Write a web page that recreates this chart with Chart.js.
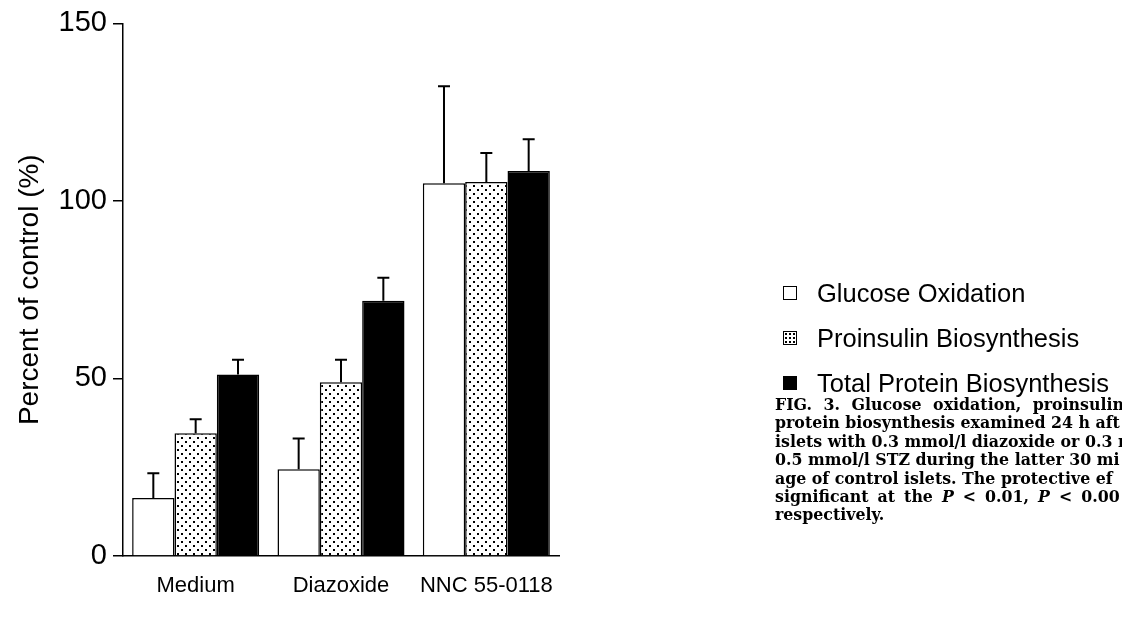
<!DOCTYPE html>
<html>
<head>
<meta charset="utf-8">
<script src="https://cdn.jsdelivr.net/npm/chart.js@4.4.1/dist/chart.umd.min.js"></script>
<style>
  html, body { margin: 0; padding: 0; background: #fff; }
  #wrap { position: relative; width: 1122px; height: 618px; overflow: hidden; }
  #chart-box { position: absolute; left: 0; top: 0; width: 1122px; height: 618px; }
  .legend { position: absolute; left: 783px; font-family: "Liberation Sans", Arial, sans-serif; font-size: 25.5px; line-height: 28px; color: #000; white-space: nowrap; }
  .legend .box { display: inline-block; width: 12px; height: 12px; border: 1.5px solid #000; vertical-align: middle; margin-right: 20px; position: relative; top: -2px; }
  .caption { position: absolute; left: 775px; top: 396px; font-family: "DejaVu Serif", serif; font-weight: bold; font-size: 15.8px; line-height: 18.4px; color: #000; white-space: nowrap; }
</style>
</head>
<body>
<div id="wrap">
  <div id="chart-box"><canvas id="barChart"></canvas></div>
  <div id="legend"></div>
  <div class="caption" id="caption"></div>
</div>
<script>
const categories = ['Medium', 'Diazoxide', 'NNC 55-0118'];
const seriesNames = ['Glucose Oxidation', 'Proinsulin Biosynthesis', 'Total Protein Biosynthesis'];
const glucoseOx = [16.3, 24.4, 105];
const glucoseOxErr = [7, 8.7, 27.3];
const proinsulin = [34.6, 48.9, 105.3];
const proinsulinErr = [3.9, 6.4, 8.2];
const totalProtein = [51.1, 71.9, 108.4];
const totalProteinErr = [4.2, 6.5, 9];
const yTicks = [0, 50, 100, 150];

const captionLines = [
  'FIG. 3. Glucose oxidation, proinsulin',
  'protein biosynthesis examined 24 h aft',
  'islets with 0.3 mmol/l diazoxide or 0.3 m',
  '0.5 mmol/l STZ during the latter 30 mi',
  'age of control islets. The protective ef',
  'significant at the <i>P</i> &lt; 0.01, <i>P</i> &lt; 0.00',
  'respectively.'
];
const captionSpacing = [6, 0, 0, 0, 0, 3.5, 0];

// dotted fill like the scanned figure
function dotPattern() {
  const c = document.createElement('canvas');
  c.width = 8; c.height = 8;
  const g = c.getContext('2d');
  g.fillStyle = '#fff';
  g.fillRect(0, 0, 8, 8);
  g.fillStyle = '#000';
  g.fillRect(1, 1, 2, 2);
  g.fillRect(5, 5, 2, 2);
  return g.createPattern(c, 'repeat');
}

const errors = [glucoseOxErr, proinsulinErr, totalProteinErr];

const errorBars = {
  id: 'errorBars',
  afterDatasetsDraw(chart) {
    const ctx = chart.ctx;
    const y = chart.scales.y;
    ctx.save();
    ctx.strokeStyle = '#000';
    ctx.lineWidth = 2;
    chart.data.datasets.forEach((ds, i) => {
      chart.getDatasetMeta(i).data.forEach((bar, j) => {
        const top = y.getPixelForValue(ds.data[j] + errors[i][j]);
        ctx.beginPath();
        ctx.moveTo(bar.x, bar.y);
        ctx.lineTo(bar.x, top);
        ctx.moveTo(bar.x - 6, top);
        ctx.lineTo(bar.x + 6, top);
        ctx.stroke();
      });
    });
    ctx.restore();
  }
};

const fills = ['#fff', dotPattern(), '#000'];
const values = [glucoseOx, proinsulin, totalProtein];

new Chart(document.getElementById('barChart'), {
  type: 'bar',
  data: {
    labels: categories,
    datasets: values.map((v, i) => ({
      label: seriesNames[i],
      data: v,
      backgroundColor: fills[i],
      borderColor: '#000',
      borderWidth: 1.5,
      categoryPercentage: 0.874,
      barPercentage: 1
    }))
  },
  options: {
    responsive: true,
    maintainAspectRatio: false,
    animation: false,
    layout: { padding: { top: 22, right: 563, left: 0, bottom: 0 } },
    plugins: { legend: { display: false }, tooltip: { enabled: false } },
    scales: {
      x: {
        afterFit: s => { s.height = 62; },
        grid: { display: false },
        border: { display: true, color: '#000', width: 1.5 },
        ticks: { color: '#000', padding: 9, font: { family: 'Liberation Sans', size: 22 } }
      },
      y: {
        min: 0,
        max: 150,
        afterFit: s => { s.width = 123; },
        afterBuildTicks: s => { s.ticks = yTicks.map(v => ({ value: v })); },
        grid: { drawOnChartArea: false, drawTicks: true, tickLength: 10, color: '#000', lineWidth: 1.5 },
        border: { display: true, color: '#000', width: 1.5 },
        ticks: { color: '#000', padding: 6, font: { family: 'Liberation Sans', size: 29 } },
        title: {
          display: true,
          text: 'Percent of control (%)',
          color: '#000',
          padding: { top: 13, bottom: 0 },
          font: { family: 'Liberation Sans', size: 28 }
        }
      }
    }
  },
  plugins: [errorBars]
});

const legendEl = document.getElementById('legend');
const legendTops = [279, 324, 369];
const boxStyles = [
  'background:#fff',
  'background:#fff radial-gradient(#000 0.8px, transparent 1.2px); background-size:4px 4px',
  'background:#000'
];
seriesNames.forEach((name, i) => {
  const d = document.createElement('div');
  d.className = 'legend';
  d.style.top = legendTops[i] + 'px';
  d.innerHTML = '<span class="box" style="' + boxStyles[i] + '"></span>' + name;
  legendEl.appendChild(d);
});

document.getElementById('caption').innerHTML = captionLines
  .map((l, i) => '<div style="word-spacing:' + captionSpacing[i] + 'px">' + l + '</div>')
  .join('');
</script>
</body>
</html>
